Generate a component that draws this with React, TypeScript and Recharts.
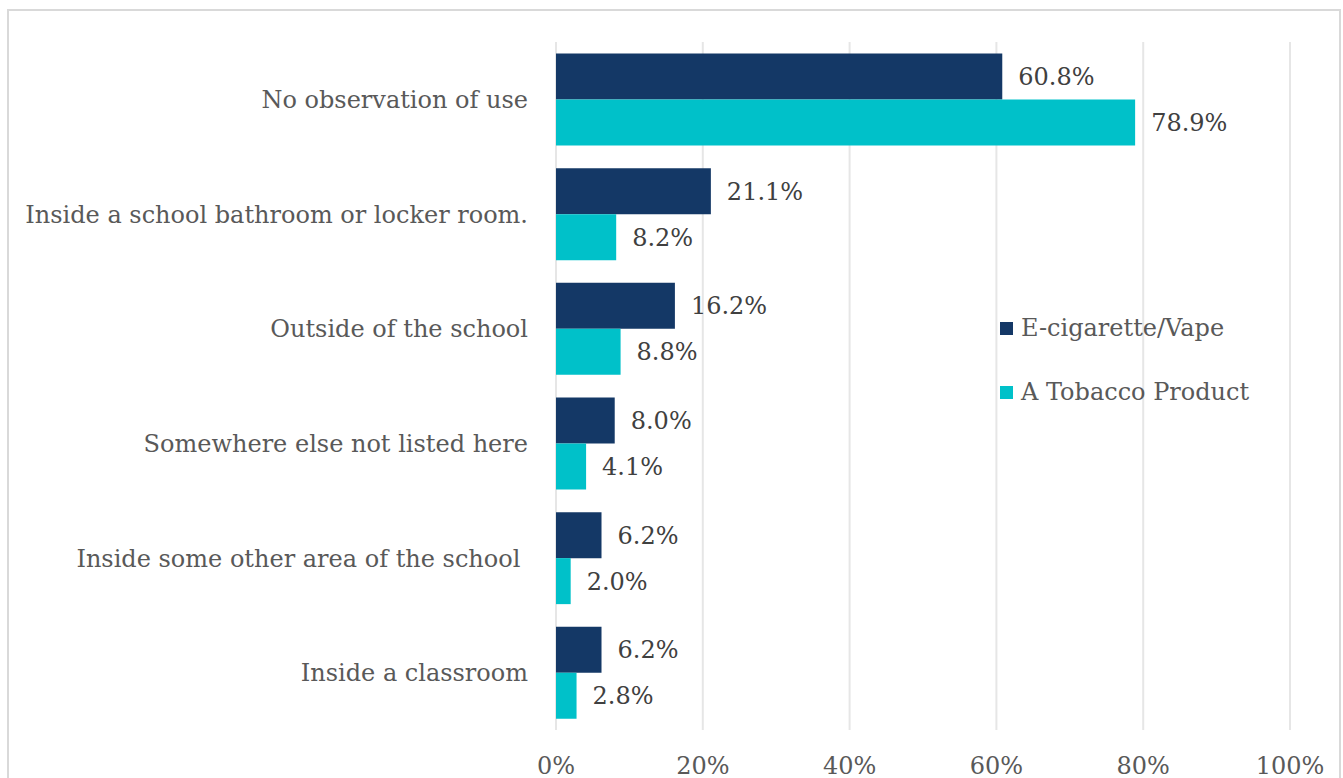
import React from "react";
import { BarChart, Bar, XAxis, YAxis, CartesianGrid, LabelList, Legend } from "recharts";

const categories = [
  "No observation of use",
  "Inside a school bathroom or locker room.",
  "Outside of the school",
  "Somewhere else not listed here",
  "Inside some other area of the school\u00a0",
  "Inside a classroom",
];
const vapeValues = [60.8, 21.1, 16.2, 8.0, 6.2, 6.2];
const tobaccoValues = [78.9, 8.2, 8.8, 4.1, 2.0, 2.8];
const xTicks = [0, 20, 40, 60, 80, 100];

const seriesKeys = ["vape", "tobacco"];
const seriesNames = { vape: "E-cigarette/Vape", tobacco: "A Tobacco Product" };
const VAPE = "#143866";
const TOBACCO = "#00C1C9";
const FONT = "'DejaVu Serif', serif";

const data = categories.map((name, i) => ({
  name,
  vape: vapeValues[i],
  tobacco: tobaccoValues[i],
}));

const fmt = (v: number) => `${Number(v).toFixed(1)}%`;

function LegendBox({ payload }: any) {
  const items = [...(payload || [])].sort(
    (a: any, b: any) => seriesKeys.indexOf(a.dataKey) - seriesKeys.indexOf(b.dataKey)
  );
  return (
    <div style={{ fontFamily: FONT, fontSize: 24, color: "#595959" }}>
      {items.map((p: any) => (
        <div key={p.value} style={{ display: "flex", alignItems: "center", height: 64 }}>
          <span style={{ width: 13, height: 13, background: p.color, marginRight: 8, display: "inline-block" }} />
          <span>{p.value}</span>
        </div>
      ))}
    </div>
  );
}

export default function App() {
  return (
    <div style={{ position: "relative", width: 1343, height: 778, overflow: "hidden", background: "#fff" }}>
      <style>{"body{margin:0}"}</style>
      <div
        style={{
          position: "absolute",
          left: 7,
          top: 9,
          width: 1330,
          height: 800,
          border: "2px solid #d9d9d9",
        }}
      />
      <BarChart
        width={1343}
        height={778}
        data={data}
        layout="vertical"
        margin={{ top: 42, right: 53, bottom: 8, left: 0 }}
        barCategoryGap="10%"
        barGap={0}
      >
        <CartesianGrid horizontal={false} stroke="#e6e6e6" strokeWidth={2} />
        <XAxis
          type="number"
          domain={[0, 100]}
          ticks={xTicks}
          tickFormatter={(v) => `${v}%`}
          axisLine={false}
          tickLine={false}
          tickSize={0}
          tickMargin={27}
          height={40}
          tick={{ fill: "#595959", fontSize: 24, fontFamily: FONT }}
        />
        <YAxis
          type="category"
          dataKey="name"
          width={556}
          interval={0}
          axisLine={false}
          tickLine={false}
          tickSize={0}
          tickMargin={28}
          tick={{ fill: "#595959", fontSize: 24, fontFamily: FONT }}
        />
        <Legend
          layout="vertical"
          align="center"
          verticalAlign="middle"
          content={<LegendBox />}
          wrapperStyle={{ left: 1000, top: 296, width: 320 }}
        />
        <Bar dataKey="vape" name={seriesNames.vape} fill={VAPE} isAnimationActive={false}>
          <LabelList
            dataKey="vape"
            position="right"
            offset={16}
            formatter={fmt as any}
            fill="#404040"
            fontSize={24}
            fontFamily={FONT}
          />
        </Bar>
        <Bar dataKey="tobacco" name={seriesNames.tobacco} fill={TOBACCO} isAnimationActive={false}>
          <LabelList
            dataKey="tobacco"
            position="right"
            offset={16}
            formatter={fmt as any}
            fill="#404040"
            fontSize={24}
            fontFamily={FONT}
          />
        </Bar>
      </BarChart>
    </div>
  );
}
